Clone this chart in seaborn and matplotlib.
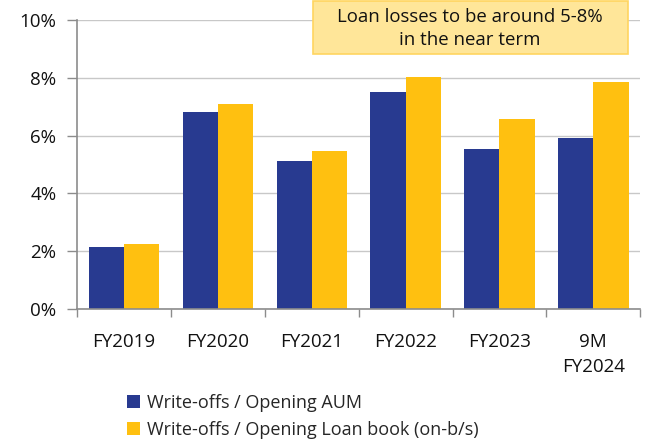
import matplotlib
matplotlib.use("Agg")
import matplotlib.pyplot as plt
import seaborn as sns
import pandas as pd
from matplotlib.patches import Patch, Rectangle
from matplotlib.ticker import FuncFormatter

categories = ["FY2019", "FY2020", "FY2021", "FY2022", "FY2023", "9M\nFY2024"]
series_names = ["Write-offs / Opening AUM", "Write-offs / Opening Loan book (on-b/s)"]
aum_writeoffs = [2.14, 6.82, 5.12, 7.51, 5.54, 5.92]
loanbook_writeoffs = [2.24, 7.10, 5.47, 8.02, 6.57, 7.87]
y_ticks = [0, 2, 4, 6, 8, 10]
note_text = "Loan losses to be around 5-8%\nin the near term"

BLUE = "#283A90"
YELLOW = "#FFC010"
GRID = "#C8C8C8"
SPINE = "#8C8C8C"
TEXT = "#111111"

df = pd.DataFrame({
    "period": categories * 2,
    "series": [series_names[0]] * len(categories) + [series_names[1]] * len(categories),
    "value": aum_writeoffs + loanbook_writeoffs,
})

sns.set_theme(style="white")
plt.rcParams["font.family"] = ["Open Sans", "DejaVu Sans"]

fig = plt.figure(figsize=(6.54, 4.44), dpi=100)
ax = fig.add_axes([0.118, 0.304, 0.861, 0.651])

sns.barplot(data=df, x="period", y="value", hue="series", order=categories,
            hue_order=series_names, palette=[BLUE, YELLOW], width=0.75, gap=0,
            saturation=1, linewidth=0, legend=False, ax=ax)

ax.set_ylim(0, 10)
ax.set_xlim(-0.5, len(categories) - 0.5)
ax.set_yticks(y_ticks)
ax.yaxis.set_major_formatter(FuncFormatter(lambda v, _: f"{v:.0f}%"))
ax.yaxis.grid(True, color=GRID, linewidth=1)
ax.set_axisbelow(True)
ax.set_xlabel("")
ax.set_ylabel("")

for s in ["top", "right"]:
    ax.spines[s].set_visible(False)
for s in ["left", "bottom"]:
    ax.spines[s].set_color(SPINE)
    ax.spines[s].set_linewidth(1.2)

ax.tick_params(axis="y", which="major", left=True, length=7, width=1, color=SPINE,
               labelsize=13.5, pad=8, labelcolor=TEXT)
ax.tick_params(axis="x", which="major", bottom=False, labelsize=13.5, pad=11,
               labelcolor=TEXT)
for lbl in ax.get_xticklabels():
    lbl.set_linespacing(1.5)
ax.set_xticks([i - 0.5 for i in range(len(categories) + 1)], minor=True)
ax.tick_params(axis="x", which="minor", bottom=True, length=6, width=1, color=SPINE)

# call-out box with the near-term expectation
fig.patches.append(Rectangle((0.479, 0.879), 0.482, 0.118, transform=fig.transFigure,
                             facecolor="#FFE699", edgecolor="#FFD560", linewidth=1.2,
                             zorder=5))
fig.text(0.719, 0.936, note_text, ha="center", va="center", fontsize=13.4,
         color=TEXT, linespacing=1.3, zorder=6)

handles = [Patch(facecolor=BLUE, edgecolor="none"),
           Patch(facecolor=YELLOW, edgecolor="none")]
fig.legend(handles, series_names, loc="lower left", bbox_to_anchor=(0.183, -0.005),
           frameon=False, fontsize=13, handlelength=0.75, handleheight=0.75,
           handletextpad=0.35, labelspacing=0.5, borderaxespad=0)

fig.savefig("out.png", dpi=100)
